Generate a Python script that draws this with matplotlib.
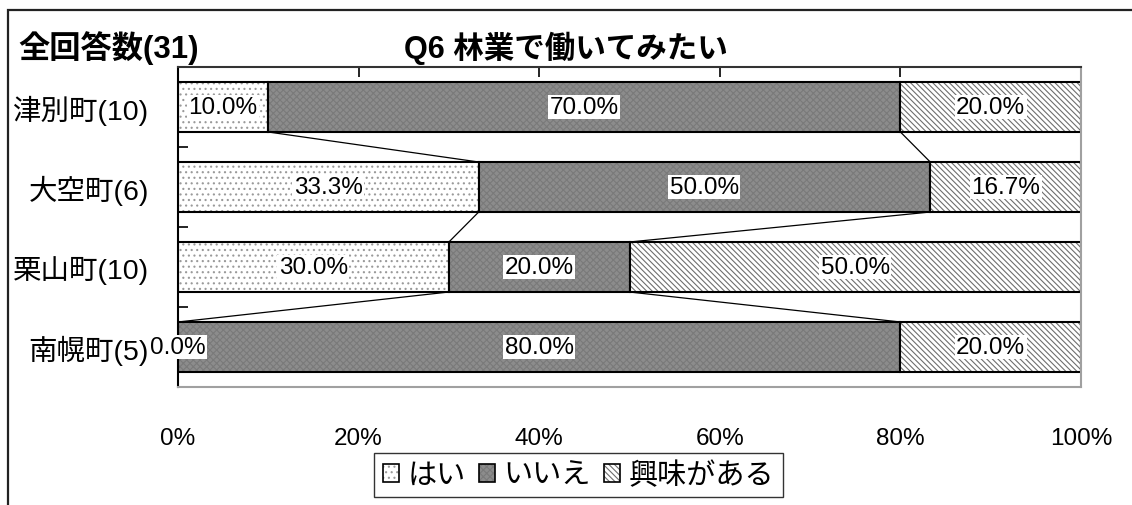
import matplotlib.pyplot as plt
import matplotlib.patches as mpatches
import numpy as np

plt.rcParams['font.family'] = ['Liberation Sans', 'Noto Sans CJK JP', 'DejaVu Sans']
plt.rcParams['hatch.linewidth'] = 0.8

towns = ["津別町(10)", "大空町(6)", "栗山町(10)", "南幌町(5)"]
series = ["はい", "いいえ", "興味がある"]
yes = [10.0, 33.3, 30.0, 0.0]
no = [70.0, 50.0, 20.0, 80.0]
interest = [20.0, 16.7, 50.0, 20.0]
xticks = [0, 20, 40, 60, 80, 100]

# fill, hatch, hatch colour for each series
styles = [("white", "...", "#9a9a9a"),
          ("#8c8c8c", "xxxxx", "#7a7a7a"),
          ("white", "\\\\\\\\\\\\", "#6e6e6e")]

fig = plt.figure(figsize=(11.32, 5.06), dpi=100)
ax = fig.add_axes([0.1572, 0.2332, 0.7978, 0.6324])

# outer frame
fig.patches.append(mpatches.Rectangle((0.0068, -0.2), 1.2, 1.2 - 0.0208, transform=fig.transFigure,
                                      fill=False, edgecolor="#222222", linewidth=1.6, clip_on=False))

y = np.arange(len(towns))
h = 0.625
data = [yes, no, interest]
left = np.zeros(len(towns))
bounds = []
for vals, (fc, hatch, hc) in zip(data, styles):
    vals = np.array(vals)
    ax.barh(y, vals, left=left, height=h, color=fc, hatch=hatch, edgecolor=hc, linewidth=0)
    ax.barh(y, vals, left=left, height=h, fill=False, edgecolor="black", linewidth=1.5)
    for yi, v, l in zip(y, vals, left):
        ax.text(l + v / 2, yi, f"{v:.1f}%", ha="center", va="center", fontsize=17.5,
                bbox=dict(facecolor="white", edgecolor="none", pad=1))
    left = left + vals
    bounds.append(left.copy())

# series lines between bars
for b in bounds[:2]:
    for i in range(len(towns) - 1):
        ax.plot([b[i], b[i + 1]], [i + h / 2, i + 1 - h / 2], color="black", linewidth=0.9)

ax.set_xlim(0, 100)
ax.set_ylim(len(towns) - 0.5, -0.5)
ax.set_xticks(xticks)
ax.set_xticklabels([f"{t}%" for t in xticks])
ax.tick_params(axis="x", bottom=False, top=True, labelbottom=True, labeltop=False,
               direction="in", length=7, width=1.2, pad=29, labelsize=17.5)
ax.set_yticks(y)
ax.set_yticklabels(towns)
ax.set_yticks(np.arange(-0.5, len(towns), 1), minor=True)
ax.tick_params(axis="y", which="major", length=0, pad=21, labelsize=20.5)
ax.tick_params(axis="y", which="minor", direction="in", length=7, width=1.2)

ax.spines["left"].set_color("black")
ax.spines["top"].set_color("#333333")
ax.spines["right"].set_color("#a0a0a0")
ax.spines["bottom"].set_color("#a0a0a0")
for s in ax.spines.values():
    s.set_linewidth(1.5)

fig.text(0.5, 0.905, "Q6 林業で働いてみたい", ha="center", va="center", fontsize=22, fontweight="bold")
fig.text(0.016, 0.905, "全回答数(31)", ha="left", va="center", fontsize=22.5, fontweight="bold")

handles = []
for fc, hatch, hc in styles:
    p1 = mpatches.Patch(facecolor=fc, hatch=hatch, edgecolor=hc, linewidth=0)
    p2 = mpatches.Patch(fill=False, edgecolor="black", linewidth=1.2)
    handles.append((p1, p2))
leg = fig.legend(handles, series, loc="center", bbox_to_anchor=(0.511, 0.059), ncol=3,
                 fontsize=21, frameon=True, fancybox=False, edgecolor="black",
                 handlelength=0.55, handleheight=0.55, handletextpad=0.3, columnspacing=0.45,
                 borderpad=0.28, borderaxespad=0)
leg.get_frame().set_linewidth(1.0)

plt.savefig("out.png", dpi=100)
